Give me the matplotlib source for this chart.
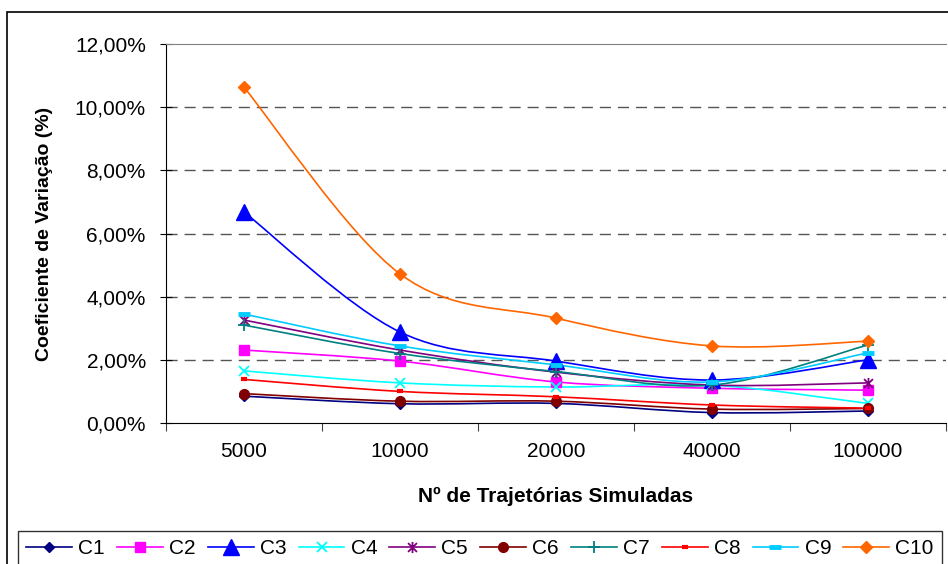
import numpy as np
import matplotlib
matplotlib.use("Agg")
import matplotlib.pyplot as plt
from matplotlib.path import Path
from matplotlib.patches import PathPatch, Rectangle
from matplotlib.lines import Line2D
from matplotlib.ticker import FuncFormatter, FixedLocator

plt.rcParams['font.family'] = ['Liberation Sans', 'DejaVu Sans']

categories = ["5000", "10000", "20000", "40000", "100000"]
series_names = ["C1", "C2", "C3", "C4", "C5", "C6", "C7", "C8", "C9", "C10"]

c1 = [0.85, 0.61, 0.62, 0.33, 0.38]
c2 = [2.31, 1.96, 1.30, 1.10, 1.04]
c3 = [6.68, 2.88, 1.96, 1.36, 2.00]
c4 = [1.65, 1.27, 1.14, 1.20, 0.62]
c5 = [3.26, 2.31, 1.61, 1.20, 1.27]
c6 = [0.93, 0.69, 0.69, 0.44, 0.46]
c7 = [3.10, 2.20, 1.63, 1.20, 2.47]
c8 = [1.38, 1.00, 0.83, 0.57, 0.47]
c9 = [3.45, 2.44, 1.84, 1.30, 2.22]
c10 = [10.63, 4.72, 3.32, 2.44, 2.59]
values = [c1, c2, c3, c4, c5, c6, c7, c8, c9, c10]

# custom asterisk: vertical bar + X
star = Path([(0, -1), (0, 1), (-0.8, -0.8), (0.8, 0.8), (-0.8, 0.8), (0.8, -0.8)],
            [Path.MOVETO, Path.LINETO, Path.MOVETO, Path.LINETO, Path.MOVETO, Path.LINETO])

styles = [
    dict(color="#000080", marker="D", ms=5.5, mew=1),
    dict(color="#FF00FF", marker="s", ms=6.5, mew=1),
    dict(color="#0000FF", marker="^", ms=12, mew=1),
    dict(color="#00FFFF", marker="x", ms=7, mew=1.3),
    dict(color="#800080", marker=star, ms=8, mew=1.3),
    dict(color="#800000", marker="o", ms=7, mew=1),
    dict(color="#008080", marker="+", ms=9, mew=1.3),
    dict(color="#FF0000", marker="_", ms=5, mew=3),
    dict(color="#00CCFF", marker="_", ms=9, mew=3.5),
    dict(color="#FF6600", marker="D", ms=6, mew=1),
]


def smooth_path(x, y):
    # Catmull-Rom style bezier through the points (like excel smoothed lines)
    pts = np.column_stack([x, y]).astype(float)
    n = len(pts)
    verts = [pts[0]]
    codes = [Path.MOVETO]
    for i in range(n - 1):
        p0 = pts[max(i - 1, 0)]
        p1 = pts[i]
        p2 = pts[i + 1]
        p3 = pts[min(i + 2, n - 1)]
        verts += [p1 + (p2 - p0) / 6, p2 - (p3 - p1) / 6, p2]
        codes += [Path.CURVE4] * 3
    return Path(verts, codes)


fig = plt.figure(figsize=(9.48, 5.64), dpi=100)
ax = fig.add_axes([166 / 948, (564 - 423) / 564, 780 / 948, (423 - 44) / 564])

x = np.arange(len(categories))
handles = []
for name, vals, st in zip(series_names, values, styles):
    ax.add_patch(PathPatch(smooth_path(x, vals), fill=False, edgecolor=st["color"], lw=1.2, zorder=3))
    ax.plot(x, vals, linestyle="none", marker=st["marker"], ms=st["ms"], mew=st["mew"],
            color=st["color"], zorder=4)
    handles.append(Line2D([], [], color=st["color"], lw=1.2, marker=st["marker"],
                          ms=st["ms"], mew=st["mew"], label=name))

ax.set_xlim(-0.5, 4.5)
ax.set_ylim(0, 12)
ax.set_yticks(np.arange(0, 12.1, 2))
ax.yaxis.set_major_formatter(FuncFormatter(lambda v, p: f"{v:.2f}%".replace(".", ",")))
ax.xaxis.set_major_locator(FixedLocator(np.arange(-0.5, 4.6, 1)))
ax.xaxis.set_major_formatter(FuncFormatter(lambda v, p: ""))
ax.xaxis.set_minor_locator(FixedLocator(x))
ax.set_xticklabels(categories, minor=True)
ax.tick_params(axis="x", which="minor", length=0, labelsize=15, pad=14)
ax.tick_params(axis="x", which="major", length=6, direction="out", color="#404040")
ax.tick_params(axis="y", length=9, direction="inout", labelsize=15, pad=10)

for yv in range(2, 12, 2):
    ax.axhline(yv, color="#555555", lw=1, ls=(0, (8, 5)), zorder=1)
ax.spines["top"].set_color("#808080")
ax.spines["right"].set_visible(False)
ax.spines["left"].set_color("black")
ax.spines["bottom"].set_color("black")

ax.set_ylabel("Coeficiente de Variação (%)", fontsize=14, fontweight="bold", labelpad=16)
ax.set_xlabel("Nº de Trajetórias Simuladas", fontsize=15, fontweight="bold", labelpad=18)

# outer chart border (cropped on right and bottom)
fig.patches.append(Rectangle((7 / 948, -0.2), 1.2, 1.2 - 12 / 564, transform=fig.transFigure,
                             fill=False, edgecolor="black", lw=1.2))

leg = fig.legend(handles=handles, loc="upper left", bbox_to_anchor=(18 / 948, 1 - 531 / 564),
                 ncol=10, fontsize=15, frameon=True, fancybox=False, borderaxespad=0,
                 handlelength=2.2, handletextpad=0.3, columnspacing=0.58, borderpad=0.4)
leg.get_frame().set_edgecolor("black")
leg.get_frame().set_linewidth(1)

fig.savefig("out.png", dpi=100)
